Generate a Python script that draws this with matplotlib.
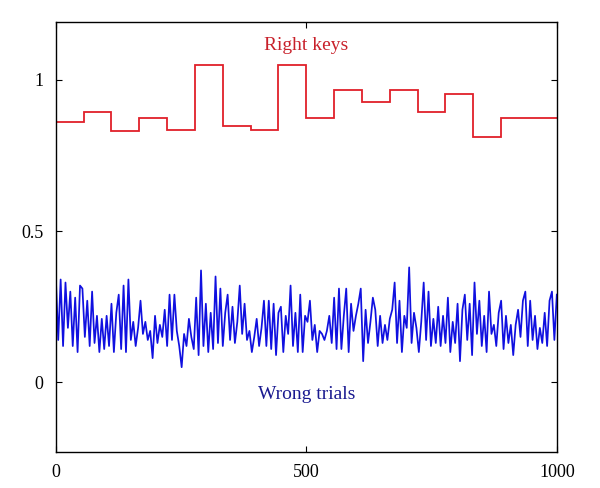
# Right keys vs wrong trials
import numpy as np
import matplotlib.pyplot as plt

# Red step curve: one value per block (18 blocks over 1000 trials)
right_keys = [0.86, 0.895, 0.83, 0.875, 0.835, 1.05, 0.848, 0.835, 1.05,
              0.875, 0.967, 0.928, 0.967, 0.895, 0.955, 0.81, 0.875, 0.875]

# Blue noisy curve left to right
wrong_trials = [
    0.35, 0.14, 0.34, 0.12, 0.33, 0.18, 0.30, 0.12, 0.28, 0.10, 0.32, 0.31,
    0.15, 0.27, 0.12, 0.30, 0.13, 0.22, 0.10, 0.21, 0.11, 0.22, 0.12, 0.26,
    0.10, 0.23, 0.29, 0.11, 0.32, 0.10, 0.34, 0.14, 0.20, 0.12,
    0.18, 0.27, 0.16, 0.20, 0.14, 0.17, 0.08, 0.22, 0.13, 0.19, 0.15, 0.24,
    0.12, 0.29, 0.14, 0.29, 0.17, 0.12, 0.05, 0.16, 0.12, 0.21, 0.15, 0.11,
    0.28, 0.09, 0.37, 0.12, 0.26, 0.10, 0.23, 0.11, 0.35, 0.13, 0.31, 0.12,
    0.23, 0.29, 0.14, 0.25, 0.13, 0.20, 0.32, 0.16, 0.26, 0.14, 0.17, 0.10,
    0.15, 0.21, 0.12, 0.18, 0.27, 0.12, 0.27, 0.11, 0.26, 0.09, 0.23, 0.25,
    0.10, 0.22, 0.16, 0.32, 0.12, 0.23, 0.10, 0.29, 0.10, 0.22,
    0.20, 0.27, 0.14, 0.19, 0.10, 0.17, 0.16, 0.14, 0.17, 0.22, 0.13, 0.28,
    0.11, 0.31, 0.11, 0.22, 0.31, 0.10, 0.26, 0.17, 0.22, 0.26, 0.31, 0.07,
    0.24, 0.13, 0.20, 0.28, 0.24, 0.12, 0.22, 0.13, 0.19, 0.14, 0.21, 0.24,
    0.33, 0.13, 0.27, 0.10, 0.22, 0.18, 0.38, 0.13, 0.23, 0.18, 0.10, 0.20,
    0.33, 0.14, 0.30, 0.12, 0.21, 0.13, 0.25, 0.12, 0.22, 0.13, 0.28, 0.10,
    0.20, 0.13, 0.26, 0.07, 0.24, 0.29, 0.14, 0.26, 0.09, 0.33,
    0.16, 0.27, 0.12, 0.22, 0.10, 0.30, 0.16, 0.19, 0.12, 0.23, 0.27, 0.11,
    0.22, 0.13, 0.19, 0.09, 0.19, 0.24, 0.15, 0.27, 0.30, 0.12, 0.27, 0.14,
    0.22, 0.11, 0.18, 0.13, 0.23, 0.12, 0.27, 0.30, 0.14, 0.29,
]

n_trials = 1000
x_ticks = [0, 500, 1000]
y_ticks = [0, 0.5, 1]
y_tick_labels = ["0", "0.5", "1"]

plt.rcParams['font.family'] = ['Liberation Serif', 'DejaVu Serif']

fig = plt.figure(figsize=(6, 4.88), dpi=100)
ax = fig.add_axes([0.093, 0.074, 0.835, 0.880])

# step edges for the red curve
edges = np.linspace(0, n_trials, len(right_keys) + 1)
ax.stairs(right_keys, edges, color='#e0202a', linewidth=1.3, baseline=None)

x_wrong = np.linspace(0, n_trials, len(wrong_trials))
ax.plot(x_wrong, wrong_trials, color='#1010e0', linewidth=1.25)

ax.text(500, 1.115, "Right keys", color='#c8202a', fontsize=14,
        ha='center', va='center')
ax.text(500, -0.04, "Wrong trials", color='#1a1a90', fontsize=14,
        ha='center', va='center')

ax.set_xlim(0, n_trials)
ax.set_ylim(-0.23, 1.19)
ax.set_xticks(x_ticks)
ax.set_xticklabels([str(t) for t in x_ticks])
ax.set_yticks(y_ticks)
ax.set_yticklabels(y_tick_labels)
ax.tick_params(direction='in', top=True, right=True, length=4,
               labelsize=13, pad=9)
for s in ax.spines.values():
    s.set_linewidth(1.0)

plt.savefig("out.png", dpi=100)
